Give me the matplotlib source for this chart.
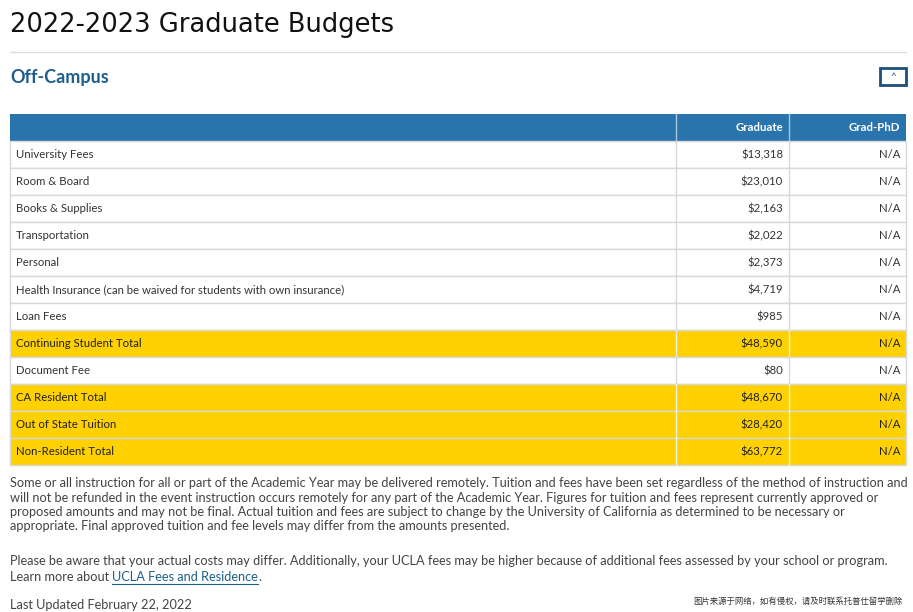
import matplotlib.pyplot as plt
from matplotlib.patches import Rectangle

# table data
items = ["University Fees", "Room & Board", "Books & Supplies", "Transportation", "Personal",
         "Health Insurance (can be waived for students with own insurance)", "Loan Fees",
         "Continuing Student Total", "Document Fee", "CA Resident Total",
         "Out of State Tuition", "Non-Resident Total"]
graduate = [13318, 23010, 2163, 2022, 2373, 4719, 985, 48590, 80, 48670, 28420, 63772]
grad_phd = ["N/A"] * 12
highlight = [False] * 7 + [True, False, True, True, True]

plt.rcParams["font.family"] = "Lato"

W, H = 913, 612
fig = plt.figure(figsize=(W / 100, H / 100), dpi=100)
ax = fig.add_axes([0, 0, 1, 1])
ax.set_xlim(0, W)
ax.set_ylim(H, 0)
ax.axis("off")

ax.text(10, 25, "2022-2023 Graduate Budgets", fontsize=18.5, color="#111111", va="center", family="DejaVu Sans")
ax.plot([10, 906], [52, 52], color="#dddddd", lw=1)
ax.text(10, 77, "Off-Campus", fontsize=13, color="#1c5f8c", va="center", fontweight="bold")
ax.add_patch(Rectangle((880, 68), 26, 17, fill=False, ec="#1c4f7a", lw=2))
ax.text(893, 77, "^", fontsize=7, color="#1c4f7a", ha="center", va="center")

x0, c1, c2, x1 = 10, 676, 789, 906
top, hh, rh = 114, 27, 27
blue = "#2a74ad"
yellow = "#ffd100"
grid = "#d8d8d8"

ax.add_patch(Rectangle((x0, top), x1 - x0, hh, fc=blue, ec="none"))
ax.plot([c1, c1], [top, top + hh], color="#a9c6de", lw=1)
ax.plot([c2, c2], [top, top + hh], color="#a9c6de", lw=1)
ax.text(c2 - 6, top + hh / 2, "Graduate", color="white", fontsize=8.2, ha="right", va="center", fontweight="bold")
ax.text(x1 - 6, top + hh / 2, "Grad-PhD", color="white", fontsize=8.2, ha="right", va="center", fontweight="bold")

for i, (name, val, phd, hl) in enumerate(zip(items, graduate, grad_phd, highlight)):
    y = top + hh + i * rh
    ax.add_patch(Rectangle((x0, y), x1 - x0, rh, fc=yellow if hl else "white", ec=grid, lw=1))
    vc = "#eeeeee" if hl else grid
    ax.plot([c1, c1], [y, y + rh], color=vc, lw=1)
    ax.plot([c2, c2], [y, y + rh], color=vc, lw=1)
    cy = y + rh / 2
    tc = "#222222" if hl else "#333333"
    ax.text(x0 + 6, cy, name, fontsize=8.2, color=tc, va="center")
    ax.text(c2 - 6, cy, f"${val:,}", fontsize=8.2, color=tc, ha="right", va="center")
    ax.text(x1 - 6, cy, phd, fontsize=8.2, color=tc, ha="right", va="center")

para1 = ("Some or all instruction for all or part of the Academic Year may be delivered remotely. Tuition and fees have been set regardless of the method of instruction and\n"
         "will not be refunded in the event instruction occurs remotely for any part of the Academic Year. Figures for tuition and fees represent currently approved or\n"
         "proposed amounts and may not be final. Actual tuition and fees are subject to change by the University of California as determined to be necessary or\n"
         "appropriate. Final approved tuition and fee levels may differ from the amounts presented.")
fs = 9.2
ax.text(10, 477, para1, fontsize=fs, color="#444444", va="top", linespacing=1.25)
ax.text(10, 555, "Please be aware that your actual costs may differ. Additionally, your UCLA fees may be higher because of additional fees assessed by your school or program.",
        fontsize=fs, color="#444444", va="top")
t = ax.text(10, 571, "Learn more about ", fontsize=fs, color="#444444", va="top")
fig.canvas.draw()
bb = t.get_window_extent()
lx = bb.x1
link = ax.text(lx, 571, "UCLA Fees and Residence", fontsize=fs, color="#1c5f8c", va="top")
fig.canvas.draw()
lb = link.get_window_extent()
ax.plot([lx, lb.x1], [584, 584], color="#1c5f8c", lw=0.8)
ax.text(lb.x1, 571, ".", fontsize=fs, color="#444444", va="top")
ax.text(10, 599, "Last Updated February 22, 2022", fontsize=fs, color="#444444", va="top")
ax.text(693, 601, "图片来源于网络，如有侵权，请及时联系托普仕留学删除", fontsize=6, color="#333333",
        va="center", family=["Noto Sans CJK JP", "Noto Sans CJK SC"], clip_on=True)

fig.savefig("out.png", dpi=100)
